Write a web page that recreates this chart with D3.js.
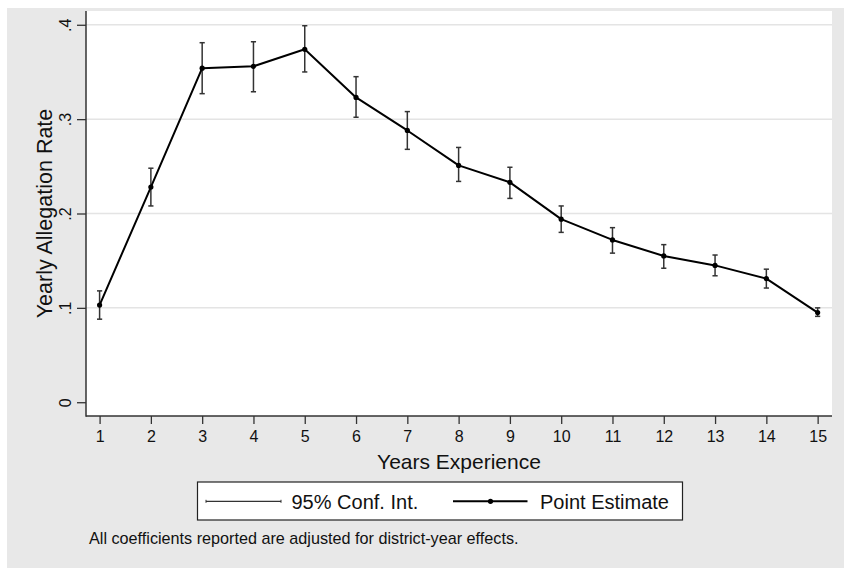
<!DOCTYPE html>
<html>
<head>
<meta charset="utf-8">
<script src="https://cdn.jsdelivr.net/npm/d3@7/dist/d3.min.js"></script>
<style>
  body { margin: 0; background: #fff; }
  svg { display: block; font-family: "Liberation Sans", Arial, Helvetica, sans-serif; }
</style>
</head>
<body>
<svg id="chart" width="844" height="568"></svg>
<script>
// data
var years = [1, 2, 3, 4, 5, 6, 7, 8, 9, 10, 11, 12, 13, 14, 15];
var estimate = [0.103, 0.228, 0.354, 0.356, 0.374, 0.323, 0.288, 0.251, 0.233, 0.194, 0.172, 0.155, 0.145, 0.131, 0.095];
var ciLow  = [0.088, 0.208, 0.327, 0.329, 0.350, 0.302, 0.268, 0.234, 0.216, 0.180, 0.158, 0.142, 0.134, 0.121, 0.091];
var ciHigh = [0.118, 0.248, 0.381, 0.382, 0.399, 0.345, 0.308, 0.270, 0.249, 0.208, 0.185, 0.167, 0.156, 0.141, 0.100];
var yTicks = [0, 0.1, 0.2, 0.3, 0.4];
var yTickLabels = ["0", ".1", ".2", ".3", ".4"];
var legendLabels = ["95% Conf. Int.", "Point Estimate"];
var note = "All coefficients reported are adjusted for district-year effects.";

var svg = d3.select("#chart");
var bg = "#e8e8e8";
var axisColor = "#333";

var plot = {left: 86, right: 832, top: 11, bottom: 416};

var rows = years.map(function(yr, i) {
  return {year: yr, est: estimate[i], lo: ciLow[i], hi: ciHigh[i]};
});

var x = d3.scaleLinear().domain([0.735, 15.28]).range([plot.left, plot.right]);
var y = d3.scaleLinear().domain([-0.0146, 0.4146]).range([plot.bottom, plot.top]);

// figure background (white margin at top/left like the original export)
svg.append("rect").attr("x", 7).attr("y", 8).attr("width", 844 - 7).attr("height", 568 - 8).attr("fill", bg);
svg.append("rect")
    .attr("x", plot.left).attr("y", plot.top)
    .attr("width", plot.right - plot.left).attr("height", plot.bottom - plot.top)
    .attr("fill", "#fff");

// gridlines
svg.append("g").selectAll("line")
    .data(yTicks.filter(function(d) { return d > 0; }))
  .enter().append("line")
    .attr("x1", plot.left).attr("x2", plot.right)
    .attr("y1", function(d) { return y(d); }).attr("y2", function(d) { return y(d); })
    .attr("stroke", "#e4e4e4").attr("stroke-width", 1.5);

// axes
var xAxis = svg.append("g")
    .attr("transform", "translate(0," + plot.bottom + ")")
    .call(d3.axisBottom(x).tickValues(years).tickFormat(d3.format("d")).tickSize(8).tickPadding(6.6));

var yAxis = svg.append("g")
    .attr("transform", "translate(" + plot.left + ",0)")
    .call(d3.axisLeft(y).tickValues(yTicks).tickFormat(function(d, i) { return yTickLabels[i]; }).tickSize(9));

[xAxis, yAxis].forEach(function(a) {
  a.select(".domain").remove();
  a.selectAll(".tick line").attr("stroke", axisColor).attr("stroke-width", 1.3);
  a.selectAll("text").attr("fill", "#111").style("font-size", "16px").style("font-family", null);
});

yAxis.selectAll(".tick text")
    .attr("transform", "rotate(-90)")
    .attr("x", 0).attr("y", -15).attr("dy", 0)
    .attr("text-anchor", "middle");

// axis lines
svg.append("line")
    .attr("x1", plot.left).attr("x2", plot.left)
    .attr("y1", plot.top).attr("y2", plot.bottom + 0.7)
    .attr("stroke", axisColor).attr("stroke-width", 1.5);
svg.append("line")
    .attr("x1", plot.left).attr("x2", plot.right)
    .attr("y1", plot.bottom).attr("y2", plot.bottom)
    .attr("stroke", axisColor).attr("stroke-width", 1.5);

// confidence intervals
var cap = 2.6;
var ci = svg.append("g").attr("stroke", "#333").attr("stroke-width", 1.5);
ci.selectAll(".bar").data(rows).enter().append("line")
    .attr("x1", function(d) { return x(d.year); }).attr("x2", function(d) { return x(d.year); })
    .attr("y1", function(d) { return y(d.lo); }).attr("y2", function(d) { return y(d.hi); });
ci.selectAll(".capHi").data(rows).enter().append("line")
    .attr("x1", function(d) { return x(d.year) - cap; }).attr("x2", function(d) { return x(d.year) + cap; })
    .attr("y1", function(d) { return y(d.hi); }).attr("y2", function(d) { return y(d.hi); });
ci.selectAll(".capLo").data(rows).enter().append("line")
    .attr("x1", function(d) { return x(d.year) - cap; }).attr("x2", function(d) { return x(d.year) + cap; })
    .attr("y1", function(d) { return y(d.lo); }).attr("y2", function(d) { return y(d.lo); });

// point estimates
var line = d3.line()
    .x(function(d) { return x(d.year); })
    .y(function(d) { return y(d.est); });

svg.append("path")
    .datum(rows)
    .attr("d", line)
    .attr("fill", "none")
    .attr("stroke", "#000")
    .attr("stroke-width", 2)
    .attr("stroke-linejoin", "round");

svg.append("g").selectAll("circle")
    .data(rows)
  .enter().append("circle")
    .attr("cx", function(d) { return x(d.year); })
    .attr("cy", function(d) { return y(d.est); })
    .attr("r", 2.6)
    .attr("fill", "#000");

// axis titles
svg.append("text")
    .attr("x", (plot.left + plot.right) / 2).attr("y", 468.5)
    .attr("text-anchor", "middle")
    .style("font-size", "21px").attr("fill", "#111")
    .text("Years Experience");

svg.append("text")
    .attr("transform", "translate(52," + ((plot.top + plot.bottom) / 2) + ") rotate(-90)")
    .attr("text-anchor", "middle")
    .style("font-size", "21.5px").attr("fill", "#111")
    .text("Yearly Allegation Rate");

// legend
var lg = svg.append("g");
lg.append("rect")
    .attr("x", 197.5).attr("y", 482).attr("width", 485).attr("height", 38)
    .attr("fill", "#fff").attr("stroke", "#222").attr("stroke-width", 1.2);

var ly = 501.3;
lg.append("line").attr("x1", 206).attr("x2", 281).attr("y1", ly).attr("y2", ly)
    .attr("stroke", "#333").attr("stroke-width", 1.3);
lg.selectAll(".lcap").data([206, 281]).enter().append("line")
    .attr("x1", function(d) { return d; }).attr("x2", function(d) { return d; })
    .attr("y1", ly - 1.5).attr("y2", ly + 1.5)
    .attr("stroke", "#333").attr("stroke-width", 1);
lg.append("text").attr("x", 291.5).attr("y", 508.5)
    .style("font-size", "20px").attr("fill", "#111").text(legendLabels[0]);

lg.append("line").attr("x1", 453).attr("x2", 527.5).attr("y1", ly).attr("y2", ly)
    .attr("stroke", "#000").attr("stroke-width", 2);
lg.append("circle").attr("cx", 490.5).attr("cy", ly).attr("r", 2.6).attr("fill", "#000");
lg.append("text").attr("x", 540).attr("y", 508.5)
    .style("font-size", "20px").attr("fill", "#111").text(legendLabels[1]);

// note
svg.append("text")
    .attr("x", 89).attr("y", 543.5)
    .style("font-size", "16.2px").attr("fill", "#111")
    .text(note);
</script>
</body>
</html>
